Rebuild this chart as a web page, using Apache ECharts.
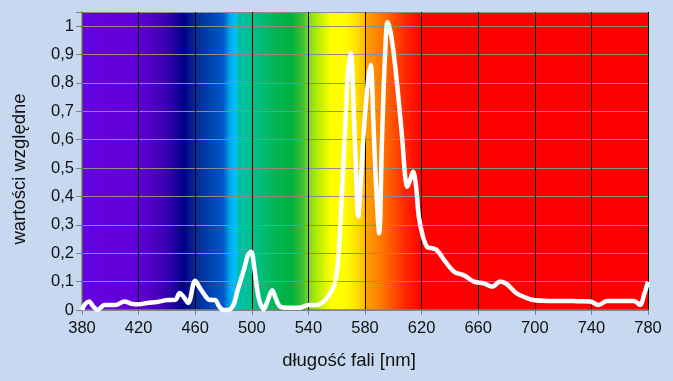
<!DOCTYPE html>
<html><head><meta charset="utf-8">
<script src="https://cdn.jsdelivr.net/npm/echarts@6/dist/echarts.min.js"></script>
<style>html,body{margin:0;padding:0;background:#c6d9f0;}#c{width:673px;height:381px;}</style>
</head><body><div id="c"></div>
<script>
const wavelengths = [380,382,385,388,391,396,404,410,415,420,426,433,440,446,449,452,455,460,463,466,470,474,477,480,483,487,490,495,497,499.5,502,505,508.5,511,514.5,517,520,525,534,540,546,553,559,562,564,566,568,570,572,573.5,575.3,577,579,582,584,586,588,590,592,594,596,598,600,603,606,610,612,614,616,618,621,624,628,631,636,643,650,657,664,670,675.5,680,687,693,699,710,720,730,739,745,751,760,770,774.5,777,780];
const relValues = [0,0.02,0.03,0.012,0,0.018,0.018,0.03,0.022,0.02,0.025,0.028,0.035,0.036,0.06,0.045,0.025,0.103,0.08,0.058,0.036,0.035,0.012,0,0,0.018,0.07,0.152,0.19,0.205,0.14,0.04,0.003,0.03,0.07,0.04,0.012,0.008,0.008,0.018,0.018,0.042,0.1,0.25,0.45,0.65,0.84,0.905,0.7,0.5,0.33,0.45,0.62,0.8,0.863,0.65,0.42,0.27,0.6,0.88,1.015,0.98,0.915,0.78,0.62,0.434,0.46,0.487,0.44,0.33,0.258,0.222,0.217,0.21,0.176,0.135,0.122,0.1,0.094,0.082,0.1,0.092,0.059,0.045,0.035,0.032,0.032,0.031,0.03,0.018,0.032,0.032,0.032,0.018,0.05,0.1];
const xTicks = [380,420,460,500,540,580,620,660,700,740,780];
const spectrumNm = [380,420,440,452,460,470,480,484,488,491,500,515,528,536,540,548,556,566,574,579,581,590,600,610,620,780];
const spectrumColors = ['#6502e0','#6200d8','#3a00b0','#00008a','#0a2896','#0040b0','#0058c8','#00a0e8','#00c0ff','#00c0a8','#00c090','#00b858','#00b040','#40c030','#80d820','#c0f000','#ffff00','#ffff00','#ffe000','#ffc000','#ffa000','#ff8000','#ff5000','#ff2000','#ff0000','#ff0000'];

const xMin = xTicks[0], xMax = xTicks[xTicks.length-1];
const stops = spectrumNm.map((nm,i)=>({offset:(nm-xMin)/(xMax-xMin), color:spectrumColors[i]}));
const chart = echarts.init(document.getElementById('c'), null, {renderer:'canvas'});
const font = 'Liberation Sans';
chart.setOption({
  backgroundColor:'#c6d9f0',
  animation:false,
  textStyle:{fontFamily:font},
  grid:{left:82,right:25,top:12,bottom:71,show:true,borderWidth:0,
    backgroundColor:new echarts.graphic.LinearGradient(0,0,1,0,stops)},
  xAxis:{type:'value',min:xMin,max:xMax,interval:40,
    name:'długość fali [nm]',nameLocation:'middle',nameGap:41,
    nameTextStyle:{fontSize:18.5,color:'#111',fontFamily:font,padding:[0,32,0,0]},
    axisLine:{lineStyle:{color:'#808080',width:1.5}},
    axisTick:{show:true,length:5,lineStyle:{color:'#808080'}},
    axisLabel:{fontSize:16.5,color:'#111',margin:10,fontFamily:font},
    splitLine:{show:true,lineStyle:{color:'#000',width:1}}},
  yAxis:{type:'value',min:0,max:1.05,interval:0.1,
    name:'wartości względne',nameLocation:'middle',nameGap:53,
    nameTextStyle:{fontSize:18.5,color:'#111',fontFamily:font,padding:[0,16,0,0]},
    axisLine:{show:true,lineStyle:{color:'#808080',width:1.5}},
    axisTick:{show:true,length:6,lineStyle:{color:'#808080'}},
    axisLabel:{fontSize:16.5,color:'#111',margin:8,fontFamily:font,
      formatter:v=> v>1.0001 ? '' : String(+v.toFixed(1)).replace('.',',')},
    splitLine:{show:true,lineStyle:{color:'#8c8c8c',width:1.2}}},
  series:[{type:'line',data:wavelengths.map((w,i)=>[w,relValues[i]]),
    showSymbol:false,smooth:0.35,clip:false,
    lineStyle:{color:'#ffffff',width:4.5}}]
});
</script></body></html>
